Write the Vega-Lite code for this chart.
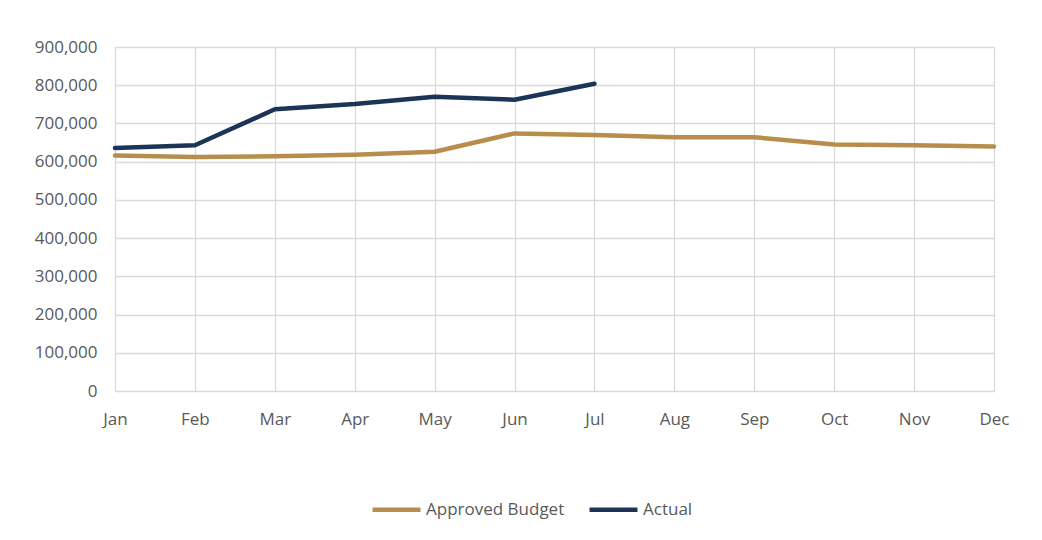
{
  "$schema": "https://vega.github.io/schema/vega-lite/v6.json",
  "width": 879,
  "height": 344,
  "autosize": {"type": "none"},
  "padding": {"left": 115, "top": 47, "right": 48, "bottom": 149},
  "background": "white",
  "config": {
    "view": {"stroke": null},
    "font": "Open Sans",
    "axis": {"labelFont": "Open Sans", "labelFontSize": 17, "labelColor": "#595959", "gridColor": "#D9D9D9", "gridWidth": 1.3, "domainColor": "#D9D9D9", "ticks": false, "title": null},
    "legend": {"labelFont": "Open Sans", "labelFontSize": 17, "labelColor": "#595959"}
  },
  "data": {
    "values": [
      {"month": "Jan", "series": "Approved Budget", "value": 616000},
      {"month": "Feb", "series": "Approved Budget", "value": 612500},
      {"month": "Mar", "series": "Approved Budget", "value": 614000},
      {"month": "Apr", "series": "Approved Budget", "value": 618000},
      {"month": "May", "series": "Approved Budget", "value": 626000},
      {"month": "Jun", "series": "Approved Budget", "value": 674000},
      {"month": "Jul", "series": "Approved Budget", "value": 670000},
      {"month": "Aug", "series": "Approved Budget", "value": 664000},
      {"month": "Sep", "series": "Approved Budget", "value": 664000},
      {"month": "Oct", "series": "Approved Budget", "value": 645000},
      {"month": "Nov", "series": "Approved Budget", "value": 643000},
      {"month": "Dec", "series": "Approved Budget", "value": 640000},
      {"month": "Jan", "series": "Actual", "value": 636000},
      {"month": "Feb", "series": "Actual", "value": 643000},
      {"month": "Mar", "series": "Actual", "value": 737000},
      {"month": "Apr", "series": "Actual", "value": 751000},
      {"month": "May", "series": "Actual", "value": 770000},
      {"month": "Jun", "series": "Actual", "value": 762000},
      {"month": "Jul", "series": "Actual", "value": 804000}
    ]
  },
  "mark": {"type": "line", "strokeWidth": 4.5, "strokeCap": "round", "strokeJoin": "round"},
  "encoding": {
    "x": {
      "field": "month", "type": "ordinal",
      "sort": ["Jan","Feb","Mar","Apr","May","Jun","Jul","Aug","Sep","Oct","Nov","Dec"],
      "scale": {"type": "point", "padding": 0},
      "axis": {"labelAngle": 0, "labelPadding": 20, "grid": true, "domain": true}
    },
    "y": {
      "field": "value", "type": "quantitative",
      "scale": {"domain": [0, 900000], "nice": false},
      "axis": {"values": [0,100000,200000,300000,400000,500000,600000,700000,800000,900000], "format": ",.0f", "labelPadding": 18, "domain": false}
    },
    "color": {
      "field": "series", "type": "nominal",
      "scale": {"domain": ["Approved Budget", "Actual"], "range": ["#B78D4B", "#1C3557"]},
      "legend": {"title": null, "orient": "none", "direction": "horizontal", "legendX": 255, "legendY": 436, "symbolType": "stroke", "symbolSize": 2300, "symbolStrokeWidth": 4.5, "labelOffset": 3, "columnPadding": 15, "padding": 0}
    }
  }
}
